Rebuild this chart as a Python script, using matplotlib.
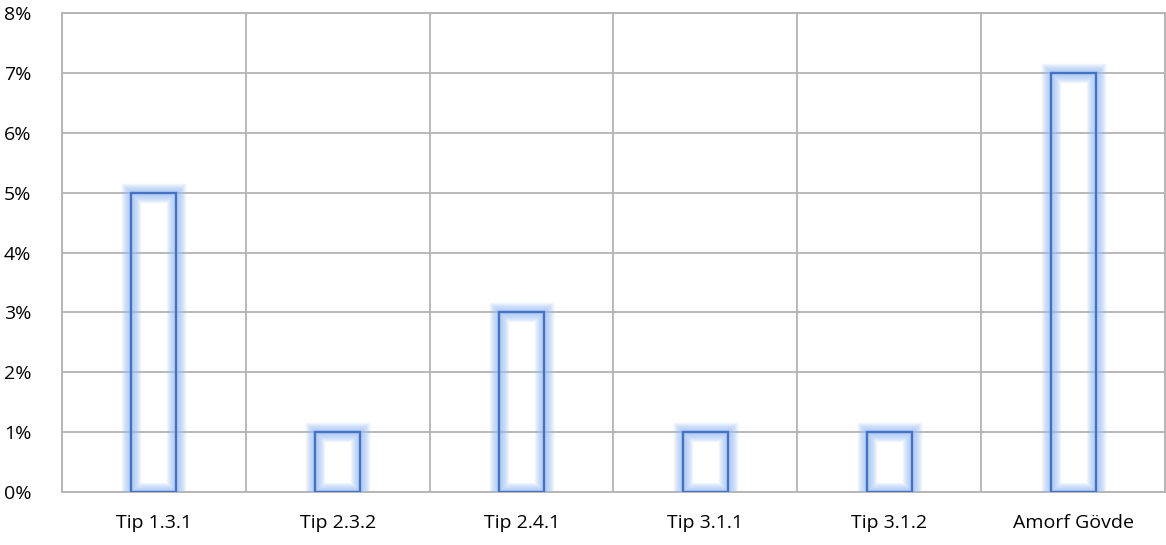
import matplotlib
matplotlib.use("Agg")
import matplotlib.pyplot as plt
from matplotlib.ticker import FixedLocator, PercentFormatter

categories = ["Tip 1.3.1", "Tip 2.3.2", "Tip 2.4.1", "Tip 3.1.1", "Tip 3.1.2", "Amorf Gövde"]
values = [5, 1, 3, 1, 1, 7]

plt.rcParams['font.family'] = ['Open Sans', 'DejaVu Sans']

fig = plt.figure(figsize=(11.66, 5.45), dpi=100)
ax = fig.add_axes([62/1166, 1-492/545, 1103/1166, 479/545])

x = list(range(len(categories)))
width = 0.245
# glow layers
for lw in [14, 12.5, 11, 9.5, 8, 6.5, 5, 3.5]:
    ax.bar(x, values, width=width, facecolor='none', edgecolor='#9DBEF5', linewidth=lw, alpha=0.14, zorder=3)
ax.bar(x, values, width=width, facecolor='none', edgecolor='#4472C4', linewidth=1.7, zorder=4)

ax.set_xlim(-0.5, len(categories) - 0.5)
ax.set_ylim(0, 8)
ax.yaxis.set_major_locator(FixedLocator(range(0, 9)))
ax.yaxis.set_major_formatter(PercentFormatter(decimals=0))
ax.set_xticks(x)
ax.set_xticklabels(categories)
ax.set_xticks([i - 0.5 for i in range(len(categories) + 1)], minor=True)
ax.grid(True, axis='y', which='major', color='#B3B3B3', linewidth=1.3, zorder=0)
ax.grid(True, axis='x', which='minor', color='#B3B3B3', linewidth=1.3, zorder=0)
ax.grid(False, axis='x', which='major')
ax.set_axisbelow(True)
for s in ax.spines.values():
    s.set_color('#B3B3B3')
    s.set_linewidth(1.3)
ax.tick_params(axis='both', which='both', length=0, labelsize=14, colors='black')
ax.tick_params(axis='x', pad=16)
ax.tick_params(axis='y', pad=22)

fig.savefig("out.png", dpi=100)
